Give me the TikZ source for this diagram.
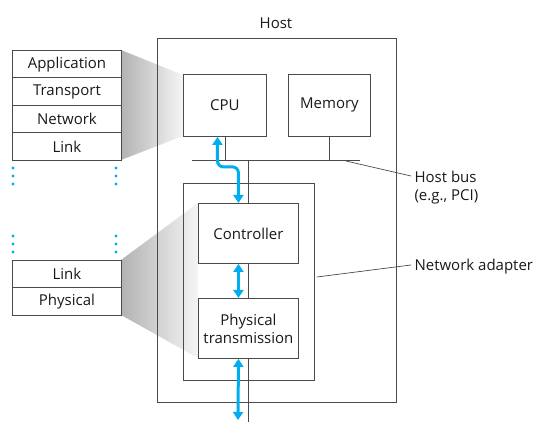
\documentclass[tikz,border=0pt]{standalone}
\usepackage{fontspec}
\setmainfont{Open Sans}
\usetikzlibrary{arrows.meta}
\definecolor{ln}{HTML}{4A4A4A}
\definecolor{cy}{HTML}{00AEEF}
\begin{document}
\begin{tikzpicture}[x=1pt,y=-1pt,
  font=\fontsize{15}{18}\selectfont,
  every node/.style={text=black!90},
  box/.style={draw=ln,line width=0.9pt,fill=white,inner sep=0pt,anchor=north west,align=center},
  layer/.style={box,minimum width=109pt,minimum height=27.5pt},
  wire/.style={draw=ln,line width=0.9pt},
  bluearrow/.style={draw=cy,line width=3pt,{Triangle[width=10pt,length=8pt]}-{Triangle[width=10pt,length=8pt]}},
  dot/.style={fill=cy,draw=none}
]
\useasboundingbox (0,0) rectangle (552,435);
% shading
\shade[left color=black!30,right color=black!4] (121,50) -- (183,75) -- (183,136) -- (121,160) -- cycle;
\shade[left color=black!30,right color=black!4] (121,260) -- (198,203) -- (198,358) -- (121,315) -- cycle;
% host
\node[box,fill=none,minimum width=239pt,minimum height=364pt] (host) at (157,38) {};
\node (hostlbl) at (276,23) {Host};
% adapter
\node[box,fill=none,minimum width=131pt,minimum height=197pt] (adapter) at (183,183) {};
% bus and vertical wire
\coordinate (busL) at (192,160);
\coordinate (busR) at (360,160);
\coordinate (busM) at (248,160);
\coordinate (wireEnd) at (248,422);
\draw[wire] (busL) -- (busR);
\draw[wire] (busM) -- (wireEnd);
% cpu and memory
\node[box,minimum width=83pt,minimum height=62pt] (cpu) at (183,74) {CPU};
\node[box,minimum width=82pt,minimum height=62pt] (mem) at (288,74) {Memory};
\draw[wire] (cpu.south) -- (cpu.south |- busL);
\draw[wire] (mem.south) -- (mem.south |- busL);
% controller & physical
\node[box,minimum width=100pt,minimum height=60pt] (ctrl) at (198,203) {Controller};
\node[box,minimum width=100pt,minimum height=60pt] (ptx) at (198,298) {Physical\\transmission};
% stacks
\node[layer] (app) at (12,50) {Application};
\node[layer] (trans) at (12,77.5) {Transport};
\node[layer] (net) at (12,105) {Network};
\node[layer] (link1) at (12,132.5) {Link};
\node[layer] (link2) at (12,260) {Link};
\node[layer] (phys) at (12,287.5) {Physical};
% dots
\foreach \x in {13,116}{
  \foreach \y in {168,176,184,236,244,252}{
    \fill[dot] (\x,\y) circle (1.7pt);
  }
}
% blue arrows
\coordinate (blueEnd) at (238,420);
\draw[bluearrow,rounded corners=6pt] ([xshift=-7.5pt]cpu.south) -- ++(0,30) -| ([xshift=-10pt]ctrl.north);
\draw[bluearrow] ([xshift=-10pt]ctrl.south) -- ([xshift=-10pt]ptx.north);
\draw[bluearrow] ([xshift=-10pt]ptx.south) -- (blueEnd);
% labels
\node[anchor=west,align=left] (buslbl) at (411,188) {Host bus\\(e.g., PCI)};
\node[anchor=west] (adlbl) at (411,267) {Network adapter};
\coordinate (busTap) at (346,161);
\draw[wire,line width=0.7pt] (busTap) -- (buslbl.west |- 0,176);
\draw[wire,line width=0.7pt] (adapter.east |- 0,277) ++(2,0) -- (adlbl.west |- 0,265);
\end{tikzpicture}
\end{document}
